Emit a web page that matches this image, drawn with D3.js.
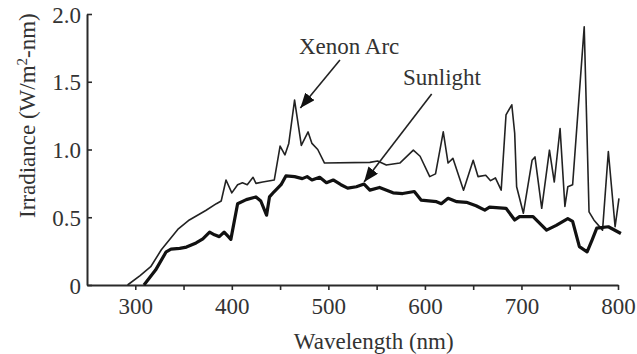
<!DOCTYPE html>
<html>
<head>
<meta charset="utf-8">
<script src="https://cdn.jsdelivr.net/npm/d3@7"></script>
<style>
  html, body { margin: 0; padding: 0; background: #fff; }
  svg { display: block; }
  text { font-family: "Liberation Serif", "Times New Roman", serif; fill: #333; }
</style>
</head>
<body>
<svg id="chart" width="637" height="354"></svg>
<script>
// ---- Data ----
const xenonNm  = [292,305,316,327,344,356,373,384,389,394,400,406,411,416,422,425,432,444,450,455,459,465,472,479,483,489,496,543,551,560,574,588,595,605,611,619,624,629,640,650,655,663,668,673,679,684,690,693,695,702,711,714,721,729,734,740,745,748,753,765,770,775,784,790,797,801];
const xenonVal = [0,0.07,0.135,0.26,0.41,0.48,0.55,0.60,0.62,0.775,0.68,0.74,0.755,0.74,0.795,0.75,0.76,0.775,1.025,0.96,1.045,1.365,1.03,1.13,1.045,1.0,0.9,0.905,0.915,0.885,0.9,0.995,0.95,0.80,0.82,1.13,0.9,0.935,0.70,0.92,0.80,0.81,0.77,0.79,0.70,1.255,1.33,1.12,0.725,0.53,0.92,0.945,0.566,0.995,0.76,1.155,0.58,0.725,0.74,1.905,0.54,0.48,0.405,0.985,0.43,0.64];

const sunNm  = [309,321,332,337,346,353,363,370,377,382,387,392,396,399,406,415,425,430,436,439,444,451,456,465,473,478,483,491,498,505,513,520,529,537,543,553,567,577,589,596,612,617,624,633,643,653,662,667,684,693,698,712,726,736,748,753,760,768,773,778,790,803];
const sunVal = [0,0.11,0.245,0.265,0.27,0.28,0.31,0.34,0.39,0.37,0.357,0.39,0.36,0.337,0.60,0.63,0.65,0.62,0.515,0.65,0.69,0.74,0.805,0.80,0.785,0.80,0.775,0.795,0.755,0.775,0.74,0.715,0.725,0.745,0.70,0.72,0.68,0.675,0.69,0.627,0.615,0.60,0.64,0.615,0.61,0.585,0.553,0.575,0.566,0.48,0.505,0.505,0.405,0.44,0.49,0.47,0.283,0.245,0.33,0.42,0.43,0.38];

const xTicks = [300,350,400,450,500,550,600,650,700,750,800];
const xTickLabels = ["300","","400","","500","","600","","700","","800"];
const yTicks = [0,0.5,1.0,1.5,2.0];
const yTickLabels = ["0","0.5","1.0","1.5","2.0"];

const xTitle = "Wavelength (nm)";
const annotLabels = ["Xenon Arc", "Sunlight"];
const annotTextNm  = [469.6, 577.3];
const annotTextVal = [1.705, 1.476];
const annotFromNm  = [512, 607];
const annotFromVal = [1.66, 1.41];
const annotToNm    = [471, 537];
const annotToVal   = [1.306, 0.76];

// ---- Scales ----
const x = d3.scaleLinear().domain([250, 800]).range([87, 618]);
const y = d3.scaleLinear().domain([0, 2]).range([285, 14]);

const svg = d3.select("#chart");
const ink = "#2a2a2a";

// Arrow marker
svg.append("defs").append("marker")
  .attr("id", "ah")
  .attr("viewBox", "0 0 15 12")
  .attr("refX", 15).attr("refY", 6)
  .attr("markerWidth", 15).attr("markerHeight", 12)
  .attr("markerUnits", "userSpaceOnUse")
  .attr("orient", "auto")
  .append("path").attr("d", "M0,0 L15,6 L0,12 Z").attr("fill", "#111");

// ---- Axes ----
const xAxis = d3.axisBottom(x).tickValues(xTicks).tickSize(5).tickSizeOuter(0)
  .tickFormat((d, i) => xTickLabels[i]);
const gx = svg.append("g").attr("transform", `translate(0,${y(0)})`).call(xAxis);
gx.select(".domain").attr("stroke", ink).attr("stroke-width", 2);
gx.selectAll(".tick line").attr("stroke", ink).attr("stroke-width", 1.6);
gx.selectAll(".tick text").attr("font-size", 23).attr("font-family", "Liberation Serif")
  .attr("fill", "#333").attr("y", 13).attr("dy", "0.71em");

const yAxis = d3.axisLeft(y).tickValues(yTicks).tickSize(-5).tickSizeOuter(0)
  .tickFormat((d, i) => yTickLabels[i]);
const gy = svg.append("g").attr("transform", `translate(${x(250)},0)`).call(yAxis);
gy.select(".domain").attr("stroke", ink).attr("stroke-width", 2);
gy.selectAll(".tick line").attr("stroke", ink).attr("stroke-width", 1.6);
gy.selectAll(".tick text").attr("font-size", 23).attr("font-family", "Liberation Serif")
  .attr("fill", "#333").attr("x", -6).attr("dy", "0.35em");

// Axis titles
svg.append("text")
  .attr("x", x(547)).attr("y", 349)
  .attr("text-anchor", "middle").attr("font-size", 23)
  .text(xTitle);

const yt = svg.append("text")
  .attr("transform", `translate(35,${(y(0.6) + y(1.9)) / 2}) rotate(-90)`)
  .attr("text-anchor", "middle").attr("font-size", 23);
yt.append("tspan").text("Irradiance (W/m");
yt.append("tspan").attr("dy", -8).attr("font-size", 15).text("2");
yt.append("tspan").attr("dy", 8).text("-nm)");

// ---- Lines ----
const xenon = xenonNm.map((d, i) => [d, xenonVal[i]]);
const sun = sunNm.map((d, i) => [d, sunVal[i]]);
const line = d3.line().x(d => x(d[0])).y(d => y(d[1]));

svg.append("path").datum(xenon).attr("d", line)
  .attr("fill", "none").attr("stroke", "#222").attr("stroke-width", 1.6)
  .attr("stroke-linejoin", "round");
svg.append("path").datum(sun).attr("d", line)
  .attr("fill", "none").attr("stroke", "#111").attr("stroke-width", 3.2)
  .attr("stroke-linejoin", "round");

// ---- Annotations ----
annotLabels.forEach((lab, i) => {
  svg.append("text").attr("x", x(annotTextNm[i])).attr("y", y(annotTextVal[i]))
    .attr("font-size", 23).text(lab);
  svg.append("line")
    .attr("x1", x(annotFromNm[i])).attr("y1", y(annotFromVal[i]))
    .attr("x2", x(annotToNm[i])).attr("y2", y(annotToVal[i]))
    .attr("stroke", "#222").attr("stroke-width", 1.6)
    .attr("marker-end", "url(#ah)");
});
</script>
</body>
</html>
